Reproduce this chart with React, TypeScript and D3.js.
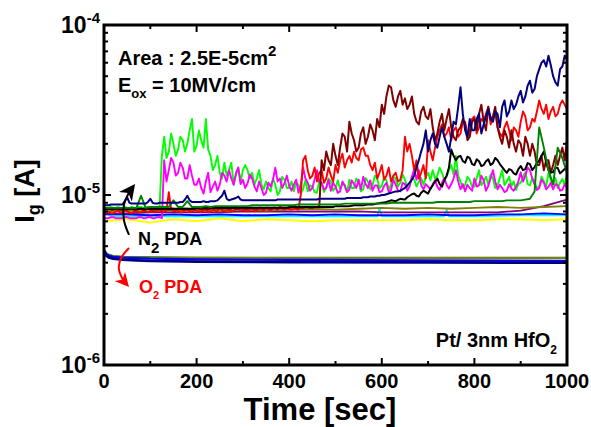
import React from "react";
import * as d3 from "d3";

// ---- time grids (seconds) ----
const T5 = d3.range(0, 1001, 5);
const T10 = d3.range(0, 1001, 10);
const T50 = d3.range(0, 1001, 50);
const O2_T = [0, 5, 10, 20, 40, 70, 100, 200, 400, 700, 1000];
const CYAN_T = [0, 5, 10, 20, 100, 200, 300, 400, 500, 590, 595, 600, 700, 735, 740, 745, 800, 900, 1000];

// ---- gate current values in µA ----
// *_A: samples at t = 0,10,...,1000 ; *_B: samples at t = 5,15,...,995
const NAVY_A = [
  8.7, 8.7, 8.8, 8.8, 8.8, 9.7, 8.9, 8.9, 8.9, 8.9,
  9.5, 8.9, 9.0, 9.0, 9.0, 9.0, 9.0, 9.1, 9.9, 9.1,
  9.1, 9.1, 9.1, 9.2, 9.2, 9.6, 10.6, 9.3, 9.5, 9.8,
  9.3, 9.3, 9.3, 9.3, 9.3, 9.3, 9.3, 9.3, 9.4, 9.4,
  9.4, 9.4, 9.4, 9.4, 9.4, 9.4, 9.4, 9.5, 9.5, 9.5,
  9.5, 9.5, 9.5, 9.6, 9.6, 9.6, 9.7, 9.7, 9.8, 9.9,
  10.0, 10.1, 10.3, 10.5, 10.6, 11.0, 11.8, 13, 16, 20,
  18, 23, 19, 25, 20, 22, 26, 43, 24, 28,
  24, 30, 26, 32, 27, 30, 33, 29, 36, 34,
  41, 38, 47, 42, 55, 62, 66, 50, 44, 57,
  63,
];
const NAVY_B = [
  8.7, 8.8, 8.8, 8.8, 9.2, 9.0, 8.9, 8.9, 8.9, 9.1,
  9.0, 8.9, 9.0, 9.0, 9.0, 9.0, 9.1, 9.4, 9.3, 9.1,
  9.1, 9.2, 9.1, 9.2, 9.3, 9.9, 9.5, 9.4, 9.6, 9.4,
  9.3, 9.3, 9.3, 9.3, 9.3, 9.3, 9.3, 9.4, 9.4, 9.4,
  9.4, 9.4, 9.4, 9.4, 9.4, 9.4, 9.5, 9.5, 9.5, 9.5,
  9.5, 9.5, 9.6, 9.6, 9.6, 9.6, 9.7, 9.8, 9.8, 9.9,
  10.0, 10.2, 10.4, 10.5, 10.8, 11.4, 12.3, 14.5, 18, 24,
  21, 20, 22, 22, 18, 27, 33, 30, 22, 24,
  28, 23, 29, 28, 31, 25, 36, 31, 32, 38,
  35, 44, 40, 50, 60, 57, 58, 46, 55, 66,
];
const MAROON_A = [
  8.2, 8.3, 8.2, 8.3, 8.2, 8.2, 8.3, 8.2, 8.3, 8.2,
  8.3, 8.2, 8.3, 8.3, 8.2, 8.3, 8.3, 8.2, 8.3, 8.3,
  8.3, 8.2, 8.3, 8.3, 8.3, 8.4, 8.3, 8.3, 8.4, 8.3,
  8.4, 8.3, 8.4, 8.3, 8.4, 8.4, 8.3, 8.4, 8.4, 8.4,
  8.4, 8.5, 8.4, 8.4, 8.5, 8.4, 8.5, 16, 18, 15,
  17, 19, 22, 27, 21, 19, 25, 22, 24, 28,
  34, 38, 43, 33, 41, 37, 34, 30, 26, 33,
  28, 25, 23, 30, 28, 25, 21, 25, 26, 22,
  28, 30, 27, 33, 29, 25, 20, 22, 24, 18,
  20, 22, 17, 18, 15, 14, 16, 15, 15, 19,
  21,
];
const MAROON_B = [
  8.3, 8.2, 8.3, 8.2, 8.3, 8.3, 8.2, 8.3, 8.2, 8.3,
  8.2, 8.3, 8.2, 8.3, 8.3, 8.2, 8.3, 8.3, 8.2, 8.3,
  8.3, 8.3, 8.2, 8.4, 8.3, 8.3, 8.4, 8.3, 8.3, 8.4,
  8.3, 8.4, 8.3, 8.4, 8.3, 8.4, 8.4, 8.3, 8.4, 8.4,
  8.5, 8.4, 8.4, 8.5, 8.4, 8.5, 8.5, 14, 16, 20,
  15, 23, 18, 23, 18, 23, 20, 26, 21, 25,
  30, 44, 36, 38, 34, 32, 38, 27, 31, 29,
  32, 21, 27, 24, 32, 22, 24, 28, 21, 27,
  24, 34, 24, 28, 33, 22, 24, 19, 20, 21,
  17, 20, 20, 15, 17, 16, 13.5, 17, 17, 16,
];
const RED_A = [
  7.9, 8.0, 7.8, 8.1, 7.9, 8.0, 7.8, 8.1, 7.9, 8.0,
  8.1, 7.9, 8.2, 8.0, 10.4, 8.0, 8.1, 7.9, 8.2, 8.0,
  8.1, 7.9, 8.2, 8.0, 8.1, 8.3, 8.0, 8.2, 8.1, 8.3,
  8.2, 8.0, 8.3, 8.1, 8.2, 8.4, 8.1, 8.3, 8.6, 8.2,
  8.3, 8.4, 8.2, 16, 14, 13, 12, 14, 12.5, 13,
  15, 16, 14.5, 17, 18, 16, 19, 17, 14, 12.5,
  15, 13, 12, 13.5, 12.3, 22, 20, 14, 12.5, 15,
  21, 16, 22, 26, 23, 21, 25, 23, 27, 24,
  29, 25, 27, 33, 28, 25, 22, 27, 21, 24,
  27, 29, 25, 27, 36, 30, 28, 33, 30, 36,
  32,
];
const RED_B = [
  8.0, 7.8, 8.0, 7.9, 8.1, 7.9, 8.0, 7.9, 8.1, 7.9,
  8.0, 8.1, 7.9, 8.1, 8.2, 8.1, 7.9, 8.1, 7.9, 8.1,
  8.0, 8.1, 7.9, 8.2, 8.0, 8.1, 8.2, 8.0, 8.3, 8.1,
  8.1, 8.2, 8.0, 8.3, 8.1, 8.2, 8.3, 8.2, 8.3, 8.4,
  8.2, 8.3, 10, 17, 12.5, 14.5, 13.5, 11.8, 14.5, 12,
  13.5, 17.5, 16, 15.5, 16.5, 18.5, 17, 15, 15.5, 13.5,
  12.3, 14.5, 13, 12, 14, 18, 17, 16, 13.5, 12.5,
  18, 19, 24, 22, 25, 24, 22, 27, 22, 28,
  23, 28, 30, 26, 31, 23, 25, 24, 25, 22,
  31, 24, 28, 31, 32, 34, 31, 29, 34, 34,
];
const BLACK_A = [
  8.3, 8.3, 8.3, 8.3, 8.3, 8.3, 8.3, 8.3, 8.3, 8.3,
  8.3, 8.3, 8.3, 8.3, 8.3, 8.3, 8.3, 8.3, 8.3, 8.3,
  8.4, 8.4, 8.4, 8.4, 8.4, 8.4, 8.4, 8.4, 8.4, 8.4,
  8.4, 8.4, 8.4, 8.4, 8.4, 8.4, 8.4, 8.4, 8.4, 8.4,
  8.5, 8.5, 8.5, 8.5, 8.5, 8.5, 8.5, 8.5, 8.5, 8.5,
  8.6, 8.6, 8.6, 8.6, 8.7, 8.7, 8.7, 8.8, 8.8, 8.9,
  9.0, 9.1, 9.3, 9.2, 9.5, 9.4, 9.9, 10.2, 9.8, 10.6,
  10.2, 11.4, 12.5, 11.2, 13, 18.5, 16, 17, 15.5, 16.5,
  15, 15.8, 15, 16.2, 15.4, 16, 14.6, 13.5, 14, 13.2,
  14.8, 14.2, 15.2, 14.6, 16, 18, 14, 13.6, 14.4, 13.8,
  14.6,
];
const BLACK_B = [
  8.3, 8.3, 8.3, 8.3, 8.3, 8.3, 8.3, 8.3, 8.3, 8.3,
  8.3, 8.3, 8.3, 8.3, 8.3, 8.3, 8.3, 8.3, 8.3, 8.3,
  8.4, 8.4, 8.4, 8.4, 8.4, 8.4, 8.4, 8.4, 8.4, 8.4,
  8.4, 8.4, 8.4, 8.4, 8.4, 8.4, 8.4, 8.4, 8.4, 8.4,
  8.5, 8.5, 8.5, 8.5, 8.5, 8.5, 8.5, 8.5, 8.5, 8.5,
  8.6, 8.6, 8.6, 8.65, 8.7, 8.7, 8.75, 8.8, 8.85, 8.95,
  9.05, 9.2, 9.25, 9.35, 9.45, 9.7, 10.1, 9.9, 10.3, 10.4,
  10.9, 12, 11.6, 12.2, 14.5, 17, 16.8, 15.8, 16.8, 15.2,
  16.2, 14.8, 15.8, 15, 16.5, 15.2, 14, 14.2, 13.4, 14.2,
  14, 15.4, 14, 15.4, 17, 15.5, 13.6, 14.5, 13.4, 14.2,
];
const LIME_A = [
  8.4, 8.4, 8.4, 8.5, 8.4, 8.4, 8.5, 8.4, 8.5, 8.4,
  8.5, 8.5, 8.5, 22, 18, 20, 18.5, 21, 20, 28,
  19.5, 21, 28, 17, 15, 13.5, 15.5, 14, 11.5, 14.5,
  14, 14, 13.5, 12.5, 11.5, 12, 10.5, 11.5, 10.5, 12.3,
  11, 10.5, 11.5, 10.8, 10.5, 11.2, 10.3, 11.8, 11, 12,
  11, 10.8, 11.5, 12.3, 11, 11.8, 10.8, 12, 11.4, 12.5,
  11.3, 12.2, 11.5, 12.5, 11.8, 12.3, 11.4, 12.3, 12, 11.5,
  13.5, 14, 13, 13.5, 12.8, 15, 17, 12, 11.5, 12.3,
  11.2, 14, 12, 11.5, 12.5, 11.4, 14, 12, 11.3, 10.7,
  11.8, 13.6, 11.4, 12, 11.2, 12, 13.5, 11.6, 11, 12.4,
  13.3,
];
const LIME_B = [
  8.4, 8.5, 8.4, 8.4, 8.5, 8.4, 8.4, 8.5, 8.4, 8.5,
  8.5, 8.4, 17, 16.5, 23, 17, 22, 18, 24, 18,
  24, 19, 18.5, 14, 17, 12.5, 13, 15.5, 13, 12,
  15, 12.5, 11.5, 14, 10.8, 11, 12.5, 10, 12.8, 11,
  12, 11.8, 10.2, 12.2, 11.4, 10.4, 12.2, 10.4, 12.5, 10.6,
  12.2, 11.6, 10.4, 11, 12.5, 10.5, 12.6, 10.8, 13, 11,
  12.8, 10.8, 12.8, 11.2, 13.2, 11, 12.8, 11.2, 12.6, 12.8,
  12.2, 12.5, 14.5, 12.2, 14, 13.2, 13, 11, 12.8, 11.2,
  12.6, 11.4, 12.8, 13.2, 11, 12.6, 11.4, 12.8, 12, 11.6,
  12.8, 11.6, 12.6, 11, 12.8, 11.2, 12.3, 12.6, 11.8, 11.5,
];
const MAGENTA_A = [
  7.3, 7.3, 7.4, 7.3, 7.3, 7.4, 7.3, 7.3, 7.4, 7.3,
  7.4, 7.3, 7.4, 16, 14, 15.5, 13.5, 14.5, 12.5, 13,
  11.5, 11, 12, 10.4, 12, 11.5, 13, 14, 11.5, 14.5,
  12.3, 11.7, 12.5, 10.5, 11, 10.3, 11.2, 14.5, 12.5, 11.8,
  11.3, 11.5, 10.3, 14.5, 11.8, 11, 14, 11.8, 11, 10.6,
  11.2, 10.5, 11.3, 10.8, 11.6, 12.3, 12.8, 11, 10.6, 11.4,
  10.5, 11.8, 10.7, 11.5, 10.5, 11.6, 11.2, 14.2, 14, 10.8,
  11.2, 11.6, 11.2, 11.8, 11.5, 11.6, 14, 10.8, 10.5, 11,
  12.5, 11.4, 12.2, 11.3, 14, 10.8, 11, 10.6, 10.9, 11.2,
  13.6, 13, 14, 11.5, 11, 11.8, 11.2, 10.8, 11.4, 10.7,
  11,
];
const MAGENTA_B = [
  7.3, 7.4, 7.3, 7.3, 7.4, 7.3, 7.3, 7.4, 7.3, 7.4,
  7.3, 7.4, 7.3, 12, 16.5, 13, 15.5, 12.5, 15, 11.5,
  12.5, 10.2, 13.5, 11.2, 10.6, 13.5, 12, 12.5, 13.5, 11.6,
  11, 13.2, 11.2, 12, 10, 11.8, 12.3, 12, 11, 13,
  10.6, 12.3, 11.5, 12.5, 10.6, 12.4, 12, 10.8, 12.3, 11.8,
  10.3, 12, 10.4, 12.2, 11, 10.8, 11.6, 12.2, 11.4, 10.4,
  11.3, 10.4, 12.3, 10.6, 11.8, 10.6, 12.8, 12.3, 11.4, 11.6,
  10.8, 12.2, 10.7, 12.6, 10.9, 12.5, 12, 11.6, 11.5, 10.6,
  11.2, 13, 10.6, 12.5, 12, 11.5, 10.4, 11.6, 10.6, 12,
  12, 14.5, 12.5, 10.7, 12.3, 10.8, 11.8, 11.6, 10.6, 11.6,
];
const DKGREEN = [
  8.4, 8.4, 8.4, 8.4, 8.4, 8.4, 8.4, 8.4, 9.9, 8.4,
  8.5, 8.5, 8.5, 8.5, 8.5, 9.3, 8.5, 8.5, 9.2, 8.5,
  8.5, 8.5, 8.6, 8.5, 8.6, 8.6, 8.6, 8.6, 8.6, 8.6,
  8.6, 8.6, 8.7, 8.7, 8.7, 8.7, 8.7, 8.7, 8.7, 8.7,
  8.7, 8.7, 8.8, 8.8, 8.8, 8.8, 8.8, 8.8, 8.8, 8.8,
  8.8, 8.8, 8.9, 8.9, 8.9, 8.9, 8.9, 8.9, 8.9, 8.9,
  8.9, 8.9, 9.0, 9.0, 9.0, 9.0, 9.0, 9.0, 9.0, 9.0,
  9.0, 9.0, 9.1, 9.1, 9.1, 9.1, 9.1, 9.1, 9.1, 9.1,
  9.2, 9.2, 9.2, 9.2, 9.2, 9.2, 9.2, 9.3, 9.3, 9.3,
  9.3, 9.4, 9.5, 10.5, 25, 19, 14, 11.5, 19, 16.5,
  13.5,
];
const OLIVE = [8.0, 8.1, 8.0, 8.1, 8.1, 8.0, 8.2, 8.1, 8.2, 8.3, 8.2, 8.3, 8.4, 8.3, 8.4, 8.3, 8.4, 8.5, 8.4, 8.5, 8.6];
const PURPLE = [7.8, 7.8, 7.9, 7.9, 7.9, 7.9, 8.0, 8.0, 8.0, 8.0, 8.0, 8.0, 7.9, 7.9, 7.9, 7.9, 7.9, 7.9, 8.1, 8.6, 9.4];
const BLUE = [7.7, 7.7, 7.6, 7.7, 7.6, 7.7, 7.6, 7.6, 7.7, 7.6, 7.7, 7.6, 7.6, 7.6, 7.7, 7.6, 7.6, 7.7, 7.7, 7.8, 7.7];
const CYAN = [8.6, 8.2, 7.6, 7.5, 7.5, 7.5, 7.5, 7.5, 7.5, 7.5, 8.4, 7.5, 7.5, 7.5, 8.2, 7.5, 7.5, 7.6, 7.6];
const YELLOW = [7.0, 7.2, 6.9, 7.2, 7.0, 7.3, 7.0, 7.2, 7.1, 7.0, 7.1, 7.1, 7.1, 7.1, 7.2, 7.1, 7.1, 7.2, 7.2, 7.1, 7.2];

// O2 PDA group (µA)
const O2_GREEN = [4.75, 4.55, 4.45, 4.38, 4.34, 4.32, 4.3, 4.28, 4.27, 4.27, 4.27];
const O2_OLIVE = [4.72, 4.52, 4.43, 4.36, 4.32, 4.3, 4.28, 4.27, 4.26, 4.26, 4.26];
const O2_BLUE = [4.7, 4.5, 4.4, 4.33, 4.28, 4.25, 4.22, 4.18, 4.15, 4.12, 4.1];
const O2_NAVY = [4.6, 4.4, 4.3, 4.22, 4.17, 4.13, 4.1, 4.06, 4.03, 4.01, 4.0];

// ---- axes ----
const X_MAJOR = [0, 200, 400, 600, 800, 1000];
const X_MINOR = [100, 300, 500, 700, 900];
const Y_MAJOR = [1e-6, 1e-5, 1e-4];
const Y_EXP = ["-6", "-5", "-4"];

// annotation arrows (t in s, I in µA)
const N2_ARROW_T = [54, 43, 43, 52, 63];
const N2_ARROW_V = [5.82, 7.13, 8.72, 10.1, 11.2];
const O2_ARROW_T = [54, 37, 32, 39, 50];
const O2_ARROW_V = [4.88, 4.26, 3.72, 3.25, 2.96];

const FONT = "'Liberation Sans', Arial, Helvetica, sans-serif";

// merge samples at t=0,10,.. with samples at t=5,15,..
const interleave = (a: number[], b: number[]) => {
  const out: number[] = [];
  a.forEach((v, i) => {
    out.push(v);
    if (i < b.length) out.push(b[i]);
  });
  return out;
};

export default function App() {
  const W = 591, H = 427;
  const L = 104, R = 567, T = 25, B = 365;
  const x = d3.scaleLinear().domain([0, 1000]).range([L, R]);
  const y = d3.scaleLog().domain([1e-6, 1e-4]).range([B, T]);
  const mk = (ts: number[], vs: number[], curve: any = d3.curveLinear) =>
    d3.line<number>().x((_, i) => x(ts[i])).y((v) => y(v * 1e-6)).curve(curve)(vs) || "";

  const series: [number[], number[], string, number][] = [
    [T50, YELLOW, "#ffff00", 2],
    [CYAN_T, CYAN, "#00ffff", 1.8],
    [T50, BLUE, "#0000ff", 1.8],
    [T50, PURPLE, "#800080", 1.8],
    [T50, OLIVE, "#808000", 1.8],
    [T5, interleave(LIME_A, LIME_B), "#00ff00", 1.9],
    [T5, interleave(MAGENTA_A, MAGENTA_B), "#ff00ff", 1.9],
    [T5, interleave(RED_A, RED_B), "#ff0000", 1.9],
    [T5, interleave(MAROON_A, MAROON_B), "#800000", 2],
    [T5, interleave(BLACK_A, BLACK_B), "#000000", 2],
    [T10, DKGREEN, "#008000", 1.9],
    [T5, interleave(NAVY_A, NAVY_B), "#000080", 2],
    [O2_T, O2_GREEN, "#008000", 2],
    [O2_T, O2_OLIVE, "#808000", 2],
    [O2_T, O2_BLUE, "#0000ff", 2.2],
    [O2_T, O2_NAVY, "#000080", 2.8],
  ];

  const yMinor = y.ticks().filter((v) => !Y_MAJOR.some((m) => Math.abs(v - m) / m < 1e-6));

  return (
    <svg width={W} height={H} style={{ position: "absolute", left: 0, top: 0, background: "#fff" }} fontFamily={FONT} fontWeight="bold">
      <defs>
        <clipPath id="plot">
          <rect x={L} y={T} width={R - L} height={B - T} />
        </clipPath>
        <marker id="ahK" viewBox="0 0 10 10" refX="8" refY="5" markerWidth="16" markerHeight="16" markerUnits="userSpaceOnUse" orient="auto">
          <path d="M0,0 L10,5 L0,10 L3,5 z" fill="#000" />
        </marker>
        <marker id="ahR" viewBox="0 0 10 10" refX="8" refY="5" markerWidth="14" markerHeight="14" markerUnits="userSpaceOnUse" orient="auto">
          <path d="M0,0 L10,5 L0,10 L3,5 z" fill="#ff0000" />
        </marker>
      </defs>
      <rect x={0} y={0} width={W} height={H} fill="#fff" />
      <g clipPath="url(#plot)" fill="none" strokeLinejoin="round">
        {series.map(([ts, vs, c, w], i) => (
          <path key={i} d={mk(ts, vs)} stroke={c} strokeWidth={w} />
        ))}
      </g>
      {/* annotation arrows */}
      <path d={mk(N2_ARROW_T, N2_ARROW_V, d3.curveCatmullRom)} fill="none" stroke="#000" strokeWidth={2} markerEnd="url(#ahK)" />
      <path d={mk(O2_ARROW_T, O2_ARROW_V, d3.curveCatmullRom)} fill="none" stroke="#ff0000" strokeWidth={2} markerEnd="url(#ahR)" />

      {/* frame */}
      <rect x={L} y={T} width={R - L} height={B - T} fill="none" stroke="#000" strokeWidth={3} />
      {/* ticks */}
      <g stroke="#000" strokeWidth={2}>
        {X_MAJOR.map((t) => (
          <g key={"xm" + t}>
            <line x1={x(t)} x2={x(t)} y1={B} y2={B - 7} />
            <line x1={x(t)} x2={x(t)} y1={T} y2={T + 7} />
          </g>
        ))}
        {X_MINOR.map((t) => (
          <g key={"xn" + t}>
            <line x1={x(t)} x2={x(t)} y1={B} y2={B - 4} />
            <line x1={x(t)} x2={x(t)} y1={T} y2={T + 4} />
          </g>
        ))}
        {Y_MAJOR.map((v) => (
          <g key={"ym" + v}>
            <line x1={L} x2={L + 7} y1={y(v)} y2={y(v)} />
            <line x1={R} x2={R - 7} y1={y(v)} y2={y(v)} />
          </g>
        ))}
        {yMinor.map((v) => (
          <g key={"yn" + v}>
            <line x1={L} x2={L + 4} y1={y(v)} y2={y(v)} />
            <line x1={R} x2={R - 4} y1={y(v)} y2={y(v)} />
          </g>
        ))}
      </g>
      {/* x tick labels */}
      {X_MAJOR.map((t) => (
        <text key={"xl" + t} x={x(t)} y={388} textAnchor="middle" fontSize={20}>
          {t}
        </text>
      ))}
      {/* y tick labels */}
      {Y_MAJOR.map((v, i) => (
        <text key={"yl" + v} x={100} y={y(v) + 8} textAnchor="end" fontSize={23}>
          10<tspan fontSize={15} dy={-10}>{Y_EXP[i]}</tspan>
        </text>
      ))}
      {/* axis titles */}
      <text x={320} y={420} textAnchor="middle" fontSize={31}>Time [sec]</text>
      <text transform={`translate(34,${191}) rotate(-90)`} textAnchor="middle" fontSize={27}>
        I<tspan fontSize={18} dy={6}>g</tspan>
        <tspan dy={-6}> [A]</tspan>
      </text>
      {/* annotations */}
      <text x={118} y={65} fontSize={20}>
        Area : 2.5E-5cm<tspan fontSize={15} dy={-9}>2</tspan>
      </text>
      <text x={118} y={92} fontSize={20}>
        E<tspan fontSize={13} dy={6}>ox</tspan>
        <tspan dy={-6}> = 10MV/cm</tspan>
      </text>
      <text x={138} y={245} fontSize={18}>
        N<tspan fontSize={15} dy={8}>2</tspan>
        <tspan dy={-8}> PDA</tspan>
      </text>
      <text x={139} y={293} fontSize={18} fill="#ff0000">
        O<tspan fontSize={11} dy={6}>2</tspan>
        <tspan dy={-6}> PDA</tspan>
      </text>
      <text x={557} y={347} textAnchor="end" fontSize={20}>
        Pt/ 3nm HfO<tspan fontSize={12} dy={7}>2</tspan>
      </text>
    </svg>
  );
}
